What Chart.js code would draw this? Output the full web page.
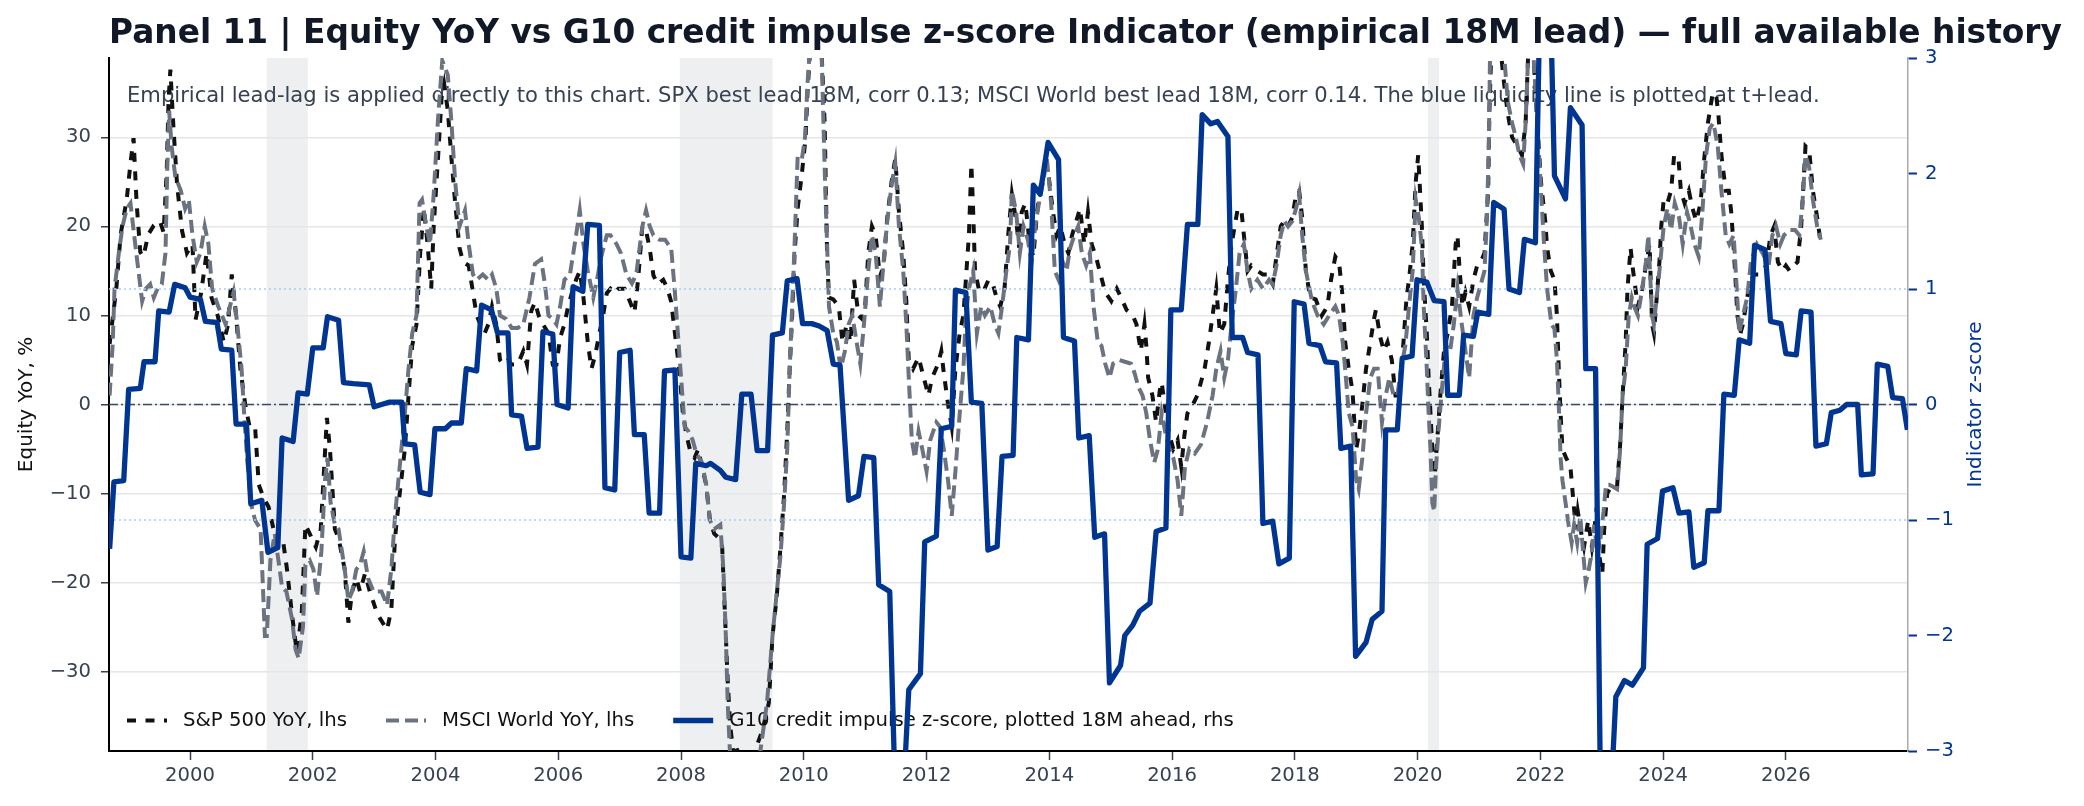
<!DOCTYPE html>
<html lang="en">
<head>
    <meta charset="UTF-8">
    <meta name="viewport" content="width=device-width, initial-scale=1.0">
    <script src="https://cdn.jsdelivr.net/npm/chart.js"></script>
    <title>Panel 11 - Equity YoY vs G10 credit impulse</title>
    <style>
        html, body { margin: 0; padding: 0; background: #ffffff; }
        .container { width: 2084px; height: 806px; }
    </style>
</head>
<body>
    <div class="container">
        <canvas id="mychart" width="2084" height="806"></canvas>
    </div>

    <script>
// ---- data (decimal year, value) ----
const spx = [
    [1998.69, 6.8], [1998.80, 13.1], [1998.87, 19.1], [1998.97, 23.1], [1999.03, 27.1], [1999.08, 29.9],
    [1999.13, 22.6], [1999.19, 17.1], [1999.24, 16.6], [1999.32, 19.1], [1999.41, 20.1], [1999.51, 20.6],
    [1999.57, 19.3], [1999.62, 26.1], [1999.65, 34.1], [1999.68, 37.6], [1999.73, 31.1], [1999.79, 24.6],
    [1999.87, 19.5], [1999.95, 17.0], [2000.04, 18.0], [2000.09, 9.5], [2000.18, 12.5], [2000.27, 17.0],
    [2000.35, 12.0], [2000.45, 10.0], [2000.55, 7.0], [2000.62, 9.0], [2000.68, 14.6], [2000.75, 10.0],
    [2000.82, 4.0], [2000.90, 0.0], [2000.97, -2.5], [2001.06, -2.5], [2001.12, -9.0], [2001.20, -10.5],
    [2001.28, -11.5], [2001.36, -14.0], [2001.44, -16.0], [2001.52, -15.5], [2001.58, -18.5], [2001.66, -23.5],
    [2001.74, -27.8], [2001.82, -23.5], [2001.88, -13.5], [2001.95, -14.5], [2002.05, -16.0], [2002.13, -14.0],
    [2002.23, -1.5], [2002.28, -5.0], [2002.36, -14.0], [2002.42, -15.0], [2002.52, -18.5], [2002.58, -24.5],
    [2002.64, -21.0], [2002.71, -19.5], [2002.77, -21.0], [2002.85, -19.0], [2002.93, -21.0], [2003.05, -23.5],
    [2003.21, -25.3], [2003.28, -23.0], [2003.34, -15.0], [2003.40, -11.0], [2003.50, -5.0], [2003.56, 1.0],
    [2003.62, 6.6], [2003.69, 9.0], [2003.75, 17.0], [2003.81, 22.0], [2003.87, 18.0], [2003.93, 13.0],
    [2003.97, 20.0], [2004.04, 27.6], [2004.10, 34.6], [2004.14, 36.0], [2004.20, 33.0], [2004.26, 27.6],
    [2004.32, 22.6], [2004.39, 17.6], [2004.45, 16.0], [2004.54, 15.6], [2004.61, 12.6], [2004.67, 10.0],
    [2004.73, 9.0], [2004.80, 8.0], [2004.86, 9.0], [2004.92, 11.0], [2004.99, 9.0], [2005.05, 5.0],
    [2005.11, 4.5], [2005.18, 5.0], [2005.24, 4.5], [2005.34, 4.5], [2005.43, 6.0], [2005.49, 4.5],
    [2005.56, 10.5], [2005.62, 11.5], [2005.68, 10.0], [2005.75, 9.0], [2005.84, 8.0], [2005.91, 4.5],
    [2005.97, 4.5], [2006.03, 7.5], [2006.10, 9.0], [2006.16, 11.0], [2006.22, 12.5], [2006.29, 14.0],
    [2006.35, 15.0], [2006.41, 12.0], [2006.48, 7.0], [2006.54, 4.0], [2006.60, 5.5], [2006.67, 8.0],
    [2006.73, 10.0], [2006.79, 12.5], [2006.85, 13.0], [2006.92, 12.5], [2006.98, 13.0], [2007.08, 13.0],
    [2007.17, 11.5], [2007.24, 10.3], [2007.30, 14.0], [2007.37, 20.0], [2007.43, 19.5], [2007.49, 17.5],
    [2007.55, 14.5], [2007.62, 13.5], [2007.71, 14.0], [2007.78, 13.0], [2007.84, 11.5], [2007.90, 8.0],
    [2007.97, 4.0], [2008.03, -1.0], [2008.09, -3.5], [2008.16, -5.5], [2008.22, -6.0], [2008.28, -5.0],
    [2008.34, -7.0], [2008.41, -9.0], [2008.47, -13.0], [2008.54, -14.5], [2008.62, -15.0], [2008.67, -16.0],
    [2008.70, -21.0], [2008.73, -26.0], [2008.76, -31.0], [2008.80, -36.0], [2008.85, -39.0], [2008.92, -38.8],
    [2009.00, -39.5], [2009.08, -43.0], [2009.17, -45.0], [2009.25, -38.0], [2009.33, -36.5], [2009.43, -33.5],
    [2009.49, -26.0], [2009.56, -21.5], [2009.62, -16.0], [2009.68, -10.0], [2009.73, -3.0], [2009.77, 4.0],
    [2009.81, 10.0], [2009.85, 17.0], [2009.90, 22.0], [2009.97, 26.0], [2010.03, 30.0], [2010.06, 35.0],
    [2010.10, 39.5], [2010.15, 44.0], [2010.22, 46.0], [2010.29, 39.5], [2010.34, 31.6], [2010.36, 24.0],
    [2010.38, 16.6], [2010.41, 12.0], [2010.48, 11.8], [2010.57, 11.0], [2010.63, 7.0], [2010.70, 9.0],
    [2010.76, 7.0], [2010.82, 14.0], [2010.89, 10.0], [2010.95, 9.6], [2011.00, 11.0], [2011.05, 17.0],
    [2011.11, 20.0], [2011.17, 19.0], [2011.24, 14.3], [2011.30, 15.6], [2011.36, 21.0], [2011.43, 25.0],
    [2011.49, 27.6], [2011.55, 21.6], [2011.62, 17.0], [2011.67, 11.6], [2011.71, 5.0], [2011.78, 4.0],
    [2011.87, 5.3], [2011.97, 2.6], [2012.03, 1.0], [2012.09, 3.0], [2012.19, 4.6], [2012.24, 6.0],
    [2012.28, 3.6], [2012.35, 0.0], [2012.41, -2.5], [2012.47, 4.0], [2012.54, 8.0], [2012.60, 10.0],
    [2012.64, 14.0], [2012.69, 19.0], [2012.73, 27.0], [2012.76, 21.6], [2012.79, 15.0], [2012.85, 13.0],
    [2012.92, 12.6], [2013.01, 14.0], [2013.08, 13.5], [2013.14, 12.0], [2013.20, 11.0], [2013.27, 13.0],
    [2013.33, 19.0], [2013.39, 23.6], [2013.46, 20.6], [2013.51, 17.6], [2013.55, 21.6], [2013.61, 22.6],
    [2013.68, 18.0], [2013.74, 16.6], [2013.80, 21.6], [2013.87, 25.0], [2013.93, 26.6], [2013.99, 25.6],
    [2014.06, 21.6], [2014.12, 19.0], [2014.18, 20.0], [2014.25, 18.0], [2014.31, 17.0], [2014.37, 19.0],
    [2014.44, 20.6], [2014.50, 22.0], [2014.57, 18.0], [2014.63, 21.6], [2014.69, 18.0], [2014.76, 16.6],
    [2014.82, 15.0], [2014.91, 12.6], [2015.01, 11.6], [2015.10, 13.0], [2015.17, 12.0], [2015.26, 10.6],
    [2015.36, 10.0], [2015.42, 9.0], [2015.49, 6.0], [2015.55, 9.0], [2015.58, 6.6], [2015.61, 3.0],
    [2015.68, 1.0], [2015.74, -2.0], [2015.80, 1.6], [2015.83, 2.5], [2015.90, -1.0], [2015.96, -3.5],
    [2016.02, -5.0], [2016.09, -4.0], [2016.15, -7.0], [2016.20, -3.5], [2016.25, -1.0], [2016.34, 0.0],
    [2016.41, 1.0], [2016.47, 2.5], [2016.53, 4.0], [2016.60, 7.0], [2016.66, 10.0], [2016.72, 13.0],
    [2016.78, 8.0], [2016.85, 9.0], [2016.91, 14.0], [2016.97, 18.0], [2017.02, 20.0], [2017.07, 22.0],
    [2017.13, 21.8], [2017.17, 19.0], [2017.23, 15.0], [2017.29, 15.6], [2017.39, 15.0], [2017.48, 14.6],
    [2017.55, 14.6], [2017.64, 13.5], [2017.70, 16.6], [2017.77, 20.0], [2017.83, 20.6], [2017.89, 20.0],
    [2017.96, 21.0], [2018.02, 23.6], [2018.07, 24.0], [2018.12, 21.0], [2018.18, 15.0], [2018.25, 12.0],
    [2018.34, 11.8], [2018.44, 10.0], [2018.53, 11.0], [2018.59, 14.0], [2018.66, 16.6], [2018.72, 16.0],
    [2018.78, 12.0], [2018.82, 7.0], [2018.88, 4.0], [2018.94, 1.5], [2018.97, -2.0], [2019.00, -5.0],
    [2019.04, -3.5], [2019.10, 0.0], [2019.16, 4.0], [2019.23, 7.0], [2019.29, 9.6], [2019.32, 10.6],
    [2019.39, 7.6], [2019.45, 6.0], [2019.51, 7.0], [2019.58, 5.0], [2019.64, 1.0], [2019.70, 1.0],
    [2019.77, 7.0], [2019.82, 12.0], [2019.86, 14.0], [2019.92, 18.0], [2019.97, 25.0], [2020.01, 28.0],
    [2020.04, 24.0], [2020.07, 20.0], [2020.10, 14.0], [2020.15, 8.0], [2020.18, 3.0], [2020.21, -1.0],
    [2020.24, -5.0], [2020.27, -9.0], [2020.30, -6.0], [2020.34, -2.0], [2020.37, 1.0], [2020.43, 6.0],
    [2020.49, 8.0], [2020.56, 11.0], [2020.62, 18.0], [2020.65, 19.0], [2020.68, 15.6], [2020.73, 11.0],
    [2020.78, 12.6], [2020.84, 11.0], [2020.91, 14.0], [2020.97, 15.6], [2021.03, 16.0], [2021.09, 17.0],
    [2021.15, 24.0], [2021.17, 33.0], [2021.20, 39.5], [2021.27, 44.0], [2021.35, 40.0], [2021.41, 36.0],
    [2021.47, 32.6], [2021.54, 30.0], [2021.63, 29.0], [2021.70, 28.0], [2021.76, 31.6], [2021.80, 39.0],
    [2021.84, 41.0], [2021.89, 39.0], [2021.95, 31.6], [2022.01, 25.0], [2022.08, 20.6], [2022.11, 17.6],
    [2022.17, 15.0], [2022.23, 14.0], [2022.27, 10.0], [2022.30, 4.0], [2022.33, -1.0], [2022.36, -5.0],
    [2022.42, -6.0], [2022.49, -7.0], [2022.54, -11.0], [2022.58, -14.0], [2022.61, -12.0], [2022.68, -15.0],
    [2022.71, -16.0], [2022.78, -13.0], [2022.84, -16.0], [2022.88, -14.0], [2022.92, -11.5], [2022.96, -17.0],
    [2023.01, -19.0], [2023.04, -14.0], [2023.09, -10.0], [2023.15, -9.2], [2023.25, -9.2], [2023.30, -4.5],
    [2023.34, 1.0], [2023.39, 7.0], [2023.42, 13.0], [2023.47, 17.6], [2023.50, 15.6], [2023.55, 13.0],
    [2023.59, 11.0], [2023.66, 13.0], [2023.72, 15.6], [2023.78, 18.0], [2023.82, 9.0], [2023.85, 8.0],
    [2023.88, 10.6], [2023.94, 16.0], [2023.97, 20.0], [2024.01, 23.0], [2024.07, 22.6], [2024.13, 24.0],
    [2024.18, 28.0], [2024.25, 27.6], [2024.29, 24.0], [2024.35, 22.6], [2024.42, 24.0], [2024.48, 22.0],
    [2024.54, 20.6], [2024.61, 22.6], [2024.67, 27.6], [2024.73, 31.6], [2024.80, 34.6], [2024.86, 35.0],
    [2024.90, 32.6], [2024.95, 28.0], [2025.02, 24.0], [2025.07, 24.0], [2025.11, 21.6], [2025.15, 17.6],
    [2025.18, 14.0], [2025.21, 10.0], [2025.26, 8.0], [2025.30, 9.0], [2025.37, 12.0], [2025.43, 14.0],
    [2025.49, 14.6], [2025.56, 14.6], [2025.62, 15.0], [2025.68, 15.6], [2025.75, 19.0], [2025.81, 20.0],
    [2025.87, 16.0], [2025.94, 15.0], [2026.00, 15.6], [2026.06, 15.0], [2026.13, 15.6], [2026.19, 16.0],
    [2026.25, 20.0], [2026.32, 29.0], [2026.38, 28.6], [2026.44, 24.0], [2026.51, 21.0], [2026.57, 18.0]
];

const msci = [
    [1998.69, 1.0], [1998.74, 6.8], [1998.77, 13.0], [1998.84, 17.0], [1998.90, 20.0], [1998.97, 22.0],
    [1999.03, 22.6], [1999.09, 19.0], [1999.16, 15.0], [1999.22, 11.6], [1999.28, 13.0], [1999.35, 13.5],
    [1999.41, 12.0], [1999.47, 13.0], [1999.54, 13.5], [1999.60, 17.0], [1999.63, 26.6], [1999.66, 33.0],
    [1999.70, 29.0], [1999.76, 25.6], [1999.85, 24.0], [1999.92, 22.0], [1999.98, 23.0], [2000.04, 19.0],
    [2000.11, 16.0], [2000.17, 17.0], [2000.24, 20.0], [2000.30, 18.0], [2000.36, 13.0], [2000.46, 11.0],
    [2000.52, 10.0], [2000.58, 9.0], [2000.65, 11.0], [2000.71, 12.6], [2000.77, 9.0], [2000.84, 4.0],
    [2000.89, -2.0], [2000.93, -6.0], [2000.99, -11.0], [2001.06, -13.0], [2001.15, -14.0], [2001.22, -26.0],
    [2001.25, -26.0], [2001.31, -17.5], [2001.38, -14.5], [2001.44, -17.5], [2001.50, -20.5], [2001.57, -21.0],
    [2001.66, -24.0], [2001.72, -27.5], [2001.77, -28.5], [2001.84, -25.0], [2001.88, -18.0], [2001.95, -17.5],
    [2002.01, -18.5], [2002.07, -21.5], [2002.14, -16.5], [2002.20, -8.5], [2002.24, -6.0], [2002.29, -11.0],
    [2002.36, -13.5], [2002.42, -14.0], [2002.52, -18.5], [2002.58, -22.0], [2002.64, -21.0], [2002.71, -18.5],
    [2002.77, -18.0], [2002.83, -16.5], [2002.90, -19.5], [2002.99, -21.0], [2003.12, -21.0], [2003.21, -22.5],
    [2003.28, -18.5], [2003.34, -12.5], [2003.43, -6.0], [2003.50, -1.0], [2003.56, 4.0], [2003.62, 8.0],
    [2003.69, 10.0], [2003.74, 22.6], [2003.78, 23.0], [2003.85, 20.0], [2003.91, 18.0], [2003.97, 23.6],
    [2004.04, 32.0], [2004.11, 38.6], [2004.20, 37.0], [2004.26, 31.6], [2004.32, 25.0], [2004.39, 20.0],
    [2004.48, 21.8], [2004.54, 18.0], [2004.61, 14.6], [2004.67, 14.0], [2004.77, 14.6], [2004.86, 14.0],
    [2004.92, 14.6], [2004.99, 13.0], [2005.05, 10.0], [2005.15, 9.6], [2005.24, 8.6], [2005.34, 8.6],
    [2005.43, 9.0], [2005.53, 12.0], [2005.62, 15.8], [2005.72, 16.3], [2005.78, 13.6], [2005.84, 10.0],
    [2005.91, 9.6], [2005.97, 9.0], [2006.03, 11.0], [2006.10, 14.0], [2006.19, 14.6], [2006.29, 19.0],
    [2006.35, 21.8], [2006.41, 18.0], [2006.48, 15.0], [2006.57, 12.0], [2006.63, 14.0], [2006.70, 16.6],
    [2006.79, 19.0], [2006.85, 19.0], [2006.95, 18.0], [2007.02, 17.0], [2007.11, 14.6], [2007.20, 13.6],
    [2007.27, 14.6], [2007.37, 20.0], [2007.43, 21.8], [2007.49, 20.0], [2007.55, 19.0], [2007.65, 18.5],
    [2007.74, 18.5], [2007.84, 17.5], [2007.90, 12.6], [2007.99, 4.0], [2008.06, -2.5], [2008.12, -3.0],
    [2008.19, -4.0], [2008.25, -5.5], [2008.34, -6.5], [2008.41, -9.0], [2008.47, -13.0], [2008.54, -14.0],
    [2008.64, -13.5], [2008.69, -18.5], [2008.73, -26.0], [2008.76, -33.5], [2008.80, -39.5], [2008.88, -42.0],
    [2009.00, -43.0], [2009.10, -46.0], [2009.20, -45.0], [2009.27, -40.0], [2009.33, -37.0], [2009.40, -33.5],
    [2009.49, -26.0], [2009.56, -21.0], [2009.62, -17.0], [2009.68, -11.0], [2009.73, -5.0], [2009.77, 4.0],
    [2009.81, 11.0], [2009.85, 18.0], [2009.90, 27.9], [2009.97, 27.6], [2010.02, 30.0], [2010.06, 36.0],
    [2010.10, 40.0], [2010.20, 43.0], [2010.29, 39.5], [2010.32, 31.6], [2010.35, 24.0], [2010.38, 18.0],
    [2010.41, 11.0], [2010.48, 8.0], [2010.54, 7.0], [2010.60, 4.0], [2010.67, 6.0], [2010.73, 9.0],
    [2010.79, 10.0], [2010.86, 7.0], [2010.92, 4.6], [2010.98, 9.0], [2011.05, 15.0], [2011.11, 19.0],
    [2011.17, 17.0], [2011.24, 11.0], [2011.30, 16.0], [2011.36, 20.6], [2011.43, 24.6], [2011.49, 27.1],
    [2011.55, 20.0], [2011.62, 15.0], [2011.67, 9.0], [2011.71, 3.0], [2011.76, -4.0], [2011.81, -6.0],
    [2011.87, -3.0], [2011.93, -5.0], [2012.00, -7.5], [2012.06, -4.0], [2012.16, -2.0], [2012.22, -2.5],
    [2012.28, -5.0], [2012.35, -8.5], [2012.41, -12.5], [2012.47, -7.5], [2012.54, -1.0], [2012.60, 4.0],
    [2012.64, 10.0], [2012.69, 13.0], [2012.76, 15.0], [2012.82, 8.0], [2012.89, 11.0], [2012.95, 10.0],
    [2013.04, 11.0], [2013.11, 9.0], [2013.17, 8.0], [2013.23, 11.0], [2013.30, 15.0], [2013.36, 18.0],
    [2013.39, 24.0], [2013.46, 21.6], [2013.52, 17.0], [2013.58, 20.0], [2013.65, 18.5], [2013.71, 16.0],
    [2013.77, 20.0], [2013.84, 23.0], [2013.90, 25.0], [2013.96, 27.6], [2014.03, 22.6], [2014.09, 15.0],
    [2014.15, 14.0], [2014.22, 16.0], [2014.28, 15.0], [2014.34, 17.6], [2014.41, 19.0], [2014.47, 20.0],
    [2014.53, 17.0], [2014.60, 15.6], [2014.66, 17.0], [2014.72, 11.0], [2014.79, 7.0], [2014.85, 6.6],
    [2014.91, 4.6], [2014.98, 3.0], [2015.04, 4.6], [2015.14, 5.0], [2015.23, 4.8], [2015.33, 4.6],
    [2015.39, 3.5], [2015.45, 2.0], [2015.52, 1.0], [2015.58, -1.0], [2015.64, -4.0], [2015.71, -6.5],
    [2015.77, -5.0], [2015.83, -1.0], [2015.90, -3.5], [2015.96, -5.0], [2016.02, -6.0], [2016.09, -8.5],
    [2016.15, -12.5], [2016.21, -7.0], [2016.28, -5.0], [2016.37, -5.5], [2016.47, -4.5], [2016.57, -2.0],
    [2016.66, 1.0], [2016.72, 4.0], [2016.79, 6.0], [2016.85, 3.0], [2016.91, 5.0], [2016.97, 9.0],
    [2017.04, 13.0], [2017.10, 17.0], [2017.17, 18.0], [2017.23, 15.0], [2017.29, 13.0], [2017.39, 14.0],
    [2017.48, 13.0], [2017.58, 14.0], [2017.64, 13.5], [2017.70, 15.6], [2017.77, 19.0], [2017.83, 20.6],
    [2017.89, 20.0], [2017.96, 20.6], [2018.02, 22.0], [2018.07, 23.6], [2018.12, 19.0], [2018.18, 15.0],
    [2018.28, 11.6], [2018.37, 10.0], [2018.47, 9.0], [2018.56, 10.0], [2018.66, 11.0], [2018.72, 10.0],
    [2018.78, 7.0], [2018.82, 4.0], [2018.88, -1.0], [2018.94, -2.5], [2019.00, -8.5], [2019.04, -9.5],
    [2019.10, -6.0], [2019.16, -1.0], [2019.23, 3.0], [2019.29, 4.0], [2019.35, 4.0], [2019.42, -2.0],
    [2019.48, 1.0], [2019.54, 3.0], [2019.61, 1.0], [2019.67, 1.0], [2019.73, 4.0], [2019.80, 6.6],
    [2019.86, 11.0], [2019.92, 15.0], [2019.97, 23.0], [2020.02, 21.0], [2020.07, 17.6], [2020.10, 11.0],
    [2020.15, 4.0], [2020.18, -1.0], [2020.21, -5.0], [2020.24, -11.0], [2020.27, -12.0], [2020.30, -7.0],
    [2020.34, -3.0], [2020.40, 2.0], [2020.46, 6.6], [2020.53, 6.0], [2020.59, 9.0], [2020.65, 13.0],
    [2020.72, 9.0], [2020.78, 6.0], [2020.84, 3.0], [2020.91, 10.0], [2020.97, 12.0], [2021.03, 13.5],
    [2021.09, 15.0], [2021.13, 21.0], [2021.16, 29.0], [2021.18, 39.0], [2021.28, 44.0], [2021.40, 40.0],
    [2021.47, 34.0], [2021.54, 31.6], [2021.60, 30.0], [2021.66, 28.0], [2021.72, 27.0], [2021.76, 31.6],
    [2021.80, 39.0], [2021.85, 42.0], [2021.89, 39.0], [2021.95, 31.6], [2022.01, 24.0], [2022.06, 18.0],
    [2022.11, 13.0], [2022.18, 9.0], [2022.23, 8.5], [2022.27, 5.0], [2022.30, 0.0], [2022.33, -6.0],
    [2022.36, -8.5], [2022.41, -11.0], [2022.46, -13.5], [2022.51, -15.5], [2022.55, -13.5], [2022.60, -15.5],
    [2022.65, -12.5], [2022.69, -16.0], [2022.74, -20.0], [2022.79, -18.5], [2022.84, -16.5], [2022.88, -13.5],
    [2022.93, -17.0], [2022.98, -15.0], [2023.03, -12.0], [2023.07, -9.0], [2023.12, -9.0], [2023.18, -9.2],
    [2023.25, -9.5], [2023.30, -5.0], [2023.34, 1.0], [2023.39, 4.0], [2023.44, 10.0], [2023.49, 12.0],
    [2023.53, 11.0], [2023.59, 10.0], [2023.66, 13.0], [2023.72, 16.0], [2023.76, 19.0], [2023.82, 10.0],
    [2023.85, 9.0], [2023.88, 11.0], [2023.94, 15.0], [2024.01, 20.0], [2024.07, 22.0], [2024.13, 19.6],
    [2024.19, 22.6], [2024.26, 21.0], [2024.32, 18.0], [2024.39, 21.6], [2024.45, 20.0], [2024.51, 18.0],
    [2024.58, 16.6], [2024.64, 21.6], [2024.70, 28.0], [2024.76, 31.0], [2024.82, 31.6], [2024.89, 29.0],
    [2024.95, 24.0], [2025.02, 19.0], [2025.08, 18.0], [2025.15, 19.0], [2025.20, 13.0], [2025.24, 8.0],
    [2025.30, 10.0], [2025.37, 12.0], [2025.43, 16.0], [2025.53, 18.0], [2025.62, 17.0], [2025.72, 15.6],
    [2025.78, 19.0], [2025.84, 20.0], [2025.91, 18.0], [2025.97, 19.0], [2026.06, 19.6], [2026.15, 19.6],
    [2026.22, 19.0], [2026.27, 22.6], [2026.32, 28.0], [2026.38, 26.6], [2026.44, 23.0], [2026.51, 20.0],
    [2026.57, 18.5]
];

// G10 credit impulse z-score, already shifted 18M ahead
const g10 = [
    [1998.69, -1.25], [1998.76, -0.67], [1998.92, -0.66], [1999.00, 0.13], [1999.19, 0.14], [1999.25, 0.37],
    [1999.43, 0.37], [1999.49, 0.81], [1999.66, 0.80], [1999.75, 1.04], [1999.92, 1.01], [2000.00, 0.93],
    [2000.17, 0.91], [2000.25, 0.72], [2000.44, 0.71], [2000.51, 0.48], [2000.68, 0.47], [2000.75, -0.17],
    [2000.92, -0.17], [2000.99, -0.86], [2001.17, -0.83], [2001.27, -1.28], [2001.43, -1.24], [2001.50, -0.29],
    [2001.68, -0.32], [2001.76, 0.10], [2001.91, 0.09], [2002.00, 0.49], [2002.17, 0.49], [2002.24, 0.76],
    [2002.42, 0.73], [2002.50, 0.19], [2002.66, 0.18], [2002.92, 0.17], [2003.00, -0.02], [2003.24, 0.02],
    [2003.45, 0.02], [2003.50, -0.34], [2003.66, -0.35], [2003.75, -0.76], [2003.91, -0.78], [2003.99, -0.21],
    [2004.16, -0.21], [2004.26, -0.16], [2004.42, -0.16], [2004.50, 0.31], [2004.67, 0.29], [2004.75, 0.86],
    [2004.91, 0.82], [2005.01, 0.62], [2005.18, 0.62], [2005.24, -0.09], [2005.40, -0.10], [2005.49, -0.38],
    [2005.67, -0.37], [2005.75, 0.63], [2005.91, 0.61], [2005.98, 0.00], [2006.16, -0.03], [2006.24, 1.02],
    [2006.40, 0.98], [2006.48, 1.56], [2006.67, 1.55], [2006.76, -0.72], [2006.92, -0.74], [2007.00, 0.45],
    [2007.17, 0.47], [2007.24, -0.26], [2007.40, -0.26], [2007.48, -0.94], [2007.65, -0.94], [2007.73, 0.29],
    [2007.90, 0.30], [2008.00, -1.32], [2008.16, -1.33], [2008.24, -0.51], [2008.41, -0.53], [2008.48, -0.51],
    [2008.64, -0.57], [2008.73, -0.63], [2008.89, -0.65], [2008.99, 0.09], [2009.14, 0.09], [2009.24, -0.40],
    [2009.41, -0.40], [2009.49, 0.60], [2009.65, 0.62], [2009.73, 1.07], [2009.89, 1.09], [2009.98, 0.70],
    [2010.13, 0.70], [2010.25, 0.68], [2010.38, 0.64], [2010.48, 0.35], [2010.59, 0.34], [2010.73, -0.83],
    [2010.89, -0.79], [2010.98, -0.45], [2011.14, -0.46], [2011.22, -1.56], [2011.40, -1.62], [2011.50, -3.6],
    [2011.58, -3.8], [2011.62, -3.4], [2011.71, -2.47], [2011.90, -2.33], [2011.97, -1.19], [2012.16, -1.14],
    [2012.24, -0.21], [2012.41, -0.19], [2012.47, 0.99], [2012.64, 0.97], [2012.73, 0.02], [2012.90, 0.01],
    [2013.00, -1.26], [2013.15, -1.23], [2013.23, -0.45], [2013.41, -0.44], [2013.47, 0.58], [2013.66, 0.56],
    [2013.74, 1.90], [2013.85, 1.82], [2013.98, 2.27], [2014.15, 2.12], [2014.23, 0.58], [2014.41, 0.55],
    [2014.48, -0.29], [2014.65, -0.27], [2014.74, -1.15], [2014.90, -1.12], [2014.98, -2.41], [2015.16, -2.26],
    [2015.23, -2.00], [2015.36, -1.91], [2015.47, -1.79], [2015.64, -1.72], [2015.74, -1.10], [2015.90, -1.07],
    [2015.98, 0.82], [2016.15, 0.82], [2016.25, 1.56], [2016.42, 1.56], [2016.49, 2.51], [2016.63, 2.43],
    [2016.74, 2.45], [2016.91, 2.32], [2016.98, 0.58], [2017.15, 0.58], [2017.23, 0.45], [2017.40, 0.43],
    [2017.48, -1.03], [2017.64, -1.01], [2017.74, -1.38], [2017.91, -1.33], [2017.99, 0.89], [2018.15, 0.87],
    [2018.23, 0.53], [2018.41, 0.51], [2018.50, 0.37], [2018.68, 0.36], [2018.75, -0.38], [2018.91, -0.36],
    [2018.99, -2.18], [2019.16, -2.06], [2019.26, -1.86], [2019.42, -1.79], [2019.48, -0.22], [2019.67, -0.22],
    [2019.75, 0.40], [2019.91, 0.42], [2019.99, 1.08], [2020.15, 1.06], [2020.27, 0.90], [2020.43, 0.89],
    [2020.49, 0.08], [2020.68, 0.08], [2020.75, 0.60], [2020.91, 0.59], [2020.98, 0.80], [2021.16, 0.78],
    [2021.24, 1.75], [2021.41, 1.69], [2021.49, 1.00], [2021.66, 0.97], [2021.74, 1.43], [2021.92, 1.40],
    [2022.00, 3.7], [2022.08, 4.0], [2022.16, 3.6], [2022.23, 1.98], [2022.41, 1.78], [2022.49, 2.57],
    [2022.68, 2.42], [2022.74, 0.31], [2022.90, 0.31], [2022.99, -3.8], [2023.07, -3.9], [2023.15, -3.4],
    [2023.23, -2.53], [2023.37, -2.39], [2023.50, -2.43], [2023.68, -2.28], [2023.74, -1.21], [2023.91, -1.16],
    [2023.99, -0.75], [2024.16, -0.72], [2024.26, -0.94], [2024.42, -0.93], [2024.50, -1.41], [2024.67, -1.37],
    [2024.73, -0.92], [2024.91, -0.92], [2024.99, 0.09], [2025.16, 0.08], [2025.24, 0.56], [2025.41, 0.53],
    [2025.49, 1.38], [2025.66, 1.34], [2025.75, 0.72], [2025.92, 0.70], [2026.00, 0.44], [2026.17, 0.43],
    [2026.25, 0.81], [2026.41, 0.80], [2026.49, -0.36], [2026.66, -0.34], [2026.74, -0.07], [2026.88, -0.05],
    [2026.99, 0.00], [2027.17, 0.00], [2027.23, -0.61], [2027.42, -0.60], [2027.49, 0.35], [2027.66, 0.33],
    [2027.74, 0.06], [2027.90, 0.05], [2027.98, -0.22]
];

const recessions = [[2001.25, 2001.92], [2007.98, 2009.49], [2020.17, 2020.35]];
const xTicks = [2000, 2002, 2004, 2006, 2008, 2010, 2012, 2014, 2016, 2018, 2020, 2022, 2024, 2026];
const leftTicks = [-30, -20, -10, 0, 10, 20, 30];
const rightTicks = [-3, -2, -1, 0, 1, 2, 3];
const zBands = [-1, 1];

const titleText = 'Panel 11 | Equity YoY vs G10 credit impulse z-score Indicator (empirical 18M lead) \u2014 full available history';
const noteText = 'Empirical lead-lag is applied directly to this chart. SPX best lead 18M, corr 0.13; MSCI World best lead 18M, corr 0.14. The blue liquidity line is plotted at t+lead.';

const BLUE = '#003591';
const FONT = "'DejaVu Sans', sans-serif";

function toPoints(rows) {
    return rows.map(r => ({ x: r[0], y: r[1] }));
}
function minusFmt(v) {
    return v < 0 ? '\u2212' + Math.abs(v) : String(v);
}

// bands, reference lines, notes, legend, titles
const decor = {
    id: 'decor',
    beforeDraw(chart) {
        const { ctx, chartArea: a, scales } = chart;
        ctx.save();
        ctx.fillStyle = '#eeeff1';
        recessions.forEach(([s, e]) => {
            const x0 = scales.x.getPixelForValue(s);
            const x1 = scales.x.getPixelForValue(e);
            ctx.fillRect(x0, a.top, x1 - x0, a.bottom - a.top);
        });
        ctx.restore();
    },
    beforeDatasetsDraw(chart) {
        const { ctx, chartArea: a } = chart;
        ctx.save();
        ctx.font = '21.1px ' + FONT;
        ctx.fillStyle = '#374151';
        ctx.textBaseline = 'alphabetic';
        ctx.fillText(noteText, a.left + 18, 101.5);

        // legend in the lower left of the plot
        let lx = a.left + 18;
        const ly = a.bottom - 30.5;
        ctx.font = '19.7px ' + FONT;
        ctx.textBaseline = 'middle';
        chart.data.datasets.forEach(ds => {
            ctx.strokeStyle = ds.borderColor;
            ctx.lineWidth = ds.borderWidth;
            ctx.setLineDash(ds.borderDash || []);
            ctx.lineCap = 'butt';
            ctx.beginPath();
            ctx.moveTo(lx, ly);
            ctx.lineTo(lx + 40, ly);
            ctx.stroke();
            ctx.fillStyle = '#111111';
            ctx.fillText(ds.label, lx + 56, ly);
            lx += 56 + ctx.measureText(ds.label).width + 39;
        });
        ctx.restore();
    },
    afterDatasetDraw(chart, args) {
        if (args.index !== 1) return;
        const { ctx, chartArea: a, scales } = chart;
        ctx.save();
        ctx.lineWidth = 1.5;
        ctx.strokeStyle = '#a9cdf5';
        ctx.setLineDash([2, 3]);
        zBands.forEach(v => {
            const y = scales.y1.getPixelForValue(v);
            ctx.beginPath();
            ctx.moveTo(a.left, y);
            ctx.lineTo(a.right, y);
            ctx.stroke();
        });
        const y0 = scales.y1.getPixelForValue(0);
        ctx.strokeStyle = '#3b4a66';
        ctx.setLineDash([9, 3, 2, 3]);
        ctx.beginPath();
        ctx.moveTo(a.left, y0);
        ctx.lineTo(a.right, y0);
        ctx.stroke();
        ctx.restore();
    },
    afterDraw(chart) {
        const { ctx, chartArea: a } = chart;
        ctx.save();
        ctx.font = 'bold 32.8px ' + FONT;
        ctx.fillStyle = '#111827';
        ctx.textBaseline = 'alphabetic';
        ctx.fillText(titleText, a.left, 43);

        const midY = (a.top + a.bottom) / 2;
        ctx.font = '20px ' + FONT;
        ctx.textAlign = 'center';
        ctx.translate(32, midY);
        ctx.rotate(-Math.PI / 2);
        ctx.fillStyle = '#111111';
        ctx.fillText('Equity YoY, %', 0, 0);
        ctx.restore();

        ctx.save();
        ctx.font = '20px ' + FONT;
        ctx.textAlign = 'center';
        ctx.translate(1981, midY);
        ctx.rotate(-Math.PI / 2);
        ctx.fillStyle = BLUE;
        ctx.fillText('Indicator z-score', 0, 0);
        ctx.restore();
    }
};

Chart.defaults.font.family = FONT;
Chart.defaults.font.size = 19.6;

let mychart = document.getElementById('mychart').getContext('2d');
let charts = new Chart(mychart, {
    type: 'line',
    data: {
        datasets: [
            {
                label: 'S&P 500 YoY, lhs',
                data: toPoints(spx),
                yAxisID: 'y',
                borderColor: '#111111',
                borderWidth: 4,
                borderDash: [9, 9.5],
                pointRadius: 0,
                tension: 0,
                clip: 0,
                order: 3
            },
            {
                label: 'MSCI World YoY, lhs',
                data: toPoints(msci),
                yAxisID: 'y',
                borderColor: '#6b7280',
                borderWidth: 4,
                borderDash: [13, 6],
                pointRadius: 0,
                tension: 0,
                clip: 0,
                order: 2
            },
            {
                label: 'G10 credit impulse z-score, plotted 18M ahead, rhs',
                data: toPoints(g10),
                yAxisID: 'y1',
                borderColor: BLUE,
                borderWidth: 5.3,
                borderJoinStyle: 'round',
                pointRadius: 0,
                tension: 0,
                clip: 0,
                order: 1
            }
        ]
    },
    options: {
        responsive: false,
        animation: false,
        devicePixelRatio: 1,
        layout: { padding: { top: 58, left: 0, right: 0, bottom: 0 } },
        plugins: {
            legend: { display: false },
            title: { display: false },
            tooltip: { enabled: false }
        },
        scales: {
            x: {
                type: 'linear',
                min: 1998.68,
                max: 2027.99,
                afterBuildTicks: s => { s.ticks = xTicks.map(v => ({ value: v })); },
                afterFit: s => { s.height = 55; },
                ticks: { color: '#374151', padding: 4, maxRotation: 0, callback: v => String(v) },
                grid: { drawOnChartArea: false, tickColor: '#374151', tickLength: 9, tickWidth: 1.5 },
                border: { color: '#000000', width: 2 }
            },
            y: {
                position: 'left',
                min: -38.9,
                max: 38.9,
                afterBuildTicks: s => { s.ticks = leftTicks.map(v => ({ value: v })); },
                afterFit: s => { s.width = 109; },
                ticks: { color: '#374151', padding: 10, callback: v => minusFmt(v) },
                grid: { color: '#e6e6e6', lineWidth: 1.5, tickColor: '#374151', tickLength: 8, tickWidth: 1.5 },
                border: { color: '#000000', width: 2 }
            },
            y1: {
                position: 'right',
                min: -3,
                max: 3,
                afterBuildTicks: s => { s.ticks = rightTicks.map(v => ({ value: v })); },
                afterFit: s => { s.width = 176; },
                ticks: { color: BLUE, padding: 8, callback: v => minusFmt(v) },
                grid: { drawOnChartArea: false, tickColor: BLUE, tickLength: 9, tickWidth: 2 },
                border: { color: '#aaaaaa', width: 1.5 }
            }
        }
    },
    plugins: [decor]
});
    </script>
</body>
</html>
